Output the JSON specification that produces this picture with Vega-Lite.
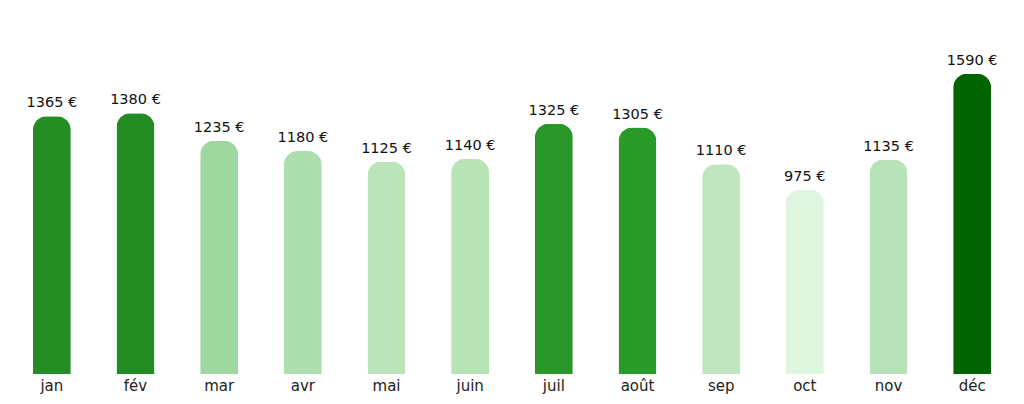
{
  "$schema": "https://vega.github.io/schema/vega-lite/v6.json",
  "width": 1004,
  "height": 374,
  "autosize": "none",
  "padding": {"left": 10, "right": 10, "top": 0, "bottom": 30},
  "background": "white",
  "config": {
    "view": {"stroke": null},
    "font": "DejaVu Sans",
    "locale": {
      "number": {
        "decimal": ",",
        "thousands": "",
        "grouping": [3],
        "currency": ["", " €"]
      }
    }
  },
  "data": {
    "values": [
      {"mois": "jan", "montant": 1365},
      {"mois": "fév", "montant": 1380},
      {"mois": "mar", "montant": 1235},
      {"mois": "avr", "montant": 1180},
      {"mois": "mai", "montant": 1125},
      {"mois": "juin", "montant": 1140},
      {"mois": "juil", "montant": 1325},
      {"mois": "août", "montant": 1305},
      {"mois": "sep", "montant": 1110},
      {"mois": "oct", "montant": 975},
      {"mois": "nov", "montant": 1135},
      {"mois": "déc", "montant": 1590}
    ]
  },
  "encoding": {
    "x": {
      "field": "mois",
      "type": "nominal",
      "sort": null,
      "scale": {"paddingInner": 0, "paddingOuter": 0},
      "axis": {
        "title": null,
        "labelAngle": 0,
        "ticks": false,
        "domain": false,
        "labelFontSize": 15,
        "labelColor": "#222",
        "labelPadding": 4
      }
    },
    "y": {
      "field": "montant",
      "type": "quantitative",
      "scale": {"domain": [0, 1980], "nice": false},
      "axis": null
    }
  },
  "layer": [
    {
      "mark": {
        "type": "bar",
        "size": 38,
        "cornerRadiusTopLeft": 14,
        "cornerRadiusTopRight": 14
      },
      "encoding": {
        "color": {
          "field": "montant",
          "type": "quantitative",
          "scale": {
            "domain": [975, 1110, 1235, 1305, 1380, 1590],
            "range": ["#def5de", "#bfe6bf", "#9ed89e", "#2a9a2a", "#228b22", "#006400"]
          },
          "legend": null
        }
      }
    },
    {
      "mark": {
        "type": "text",
        "baseline": "alphabetic",
        "dy": -9,
        "fontSize": 14.5,
        "color": "#111"
      },
      "encoding": {
        "text": {"field": "montant", "type": "quantitative", "format": "$d"}
      }
    }
  ]
}
